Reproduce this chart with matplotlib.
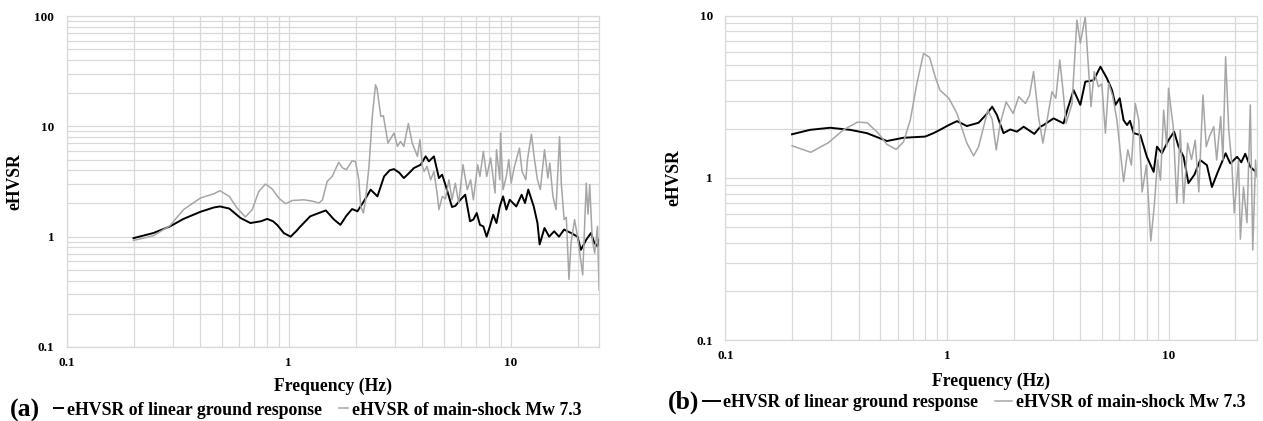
import numpy as np
import matplotlib
matplotlib.use("Agg")
import matplotlib.pyplot as plt
from matplotlib.ticker import LogLocator, NullFormatter

# (a) eHVSR of linear ground response
a_lin_f = [0.2, 0.246, 0.292, 0.336, 0.40, 0.46, 0.49, 0.54, 0.606, 0.672, 0.75, 0.80,
           0.85, 0.887, 0.95, 1.02, 1.08, 1.13, 1.25, 1.39, 1.47, 1.6, 1.71, 1.82, 1.93,
           2.04, 2.18, 2.34, 2.51, 2.69, 2.85, 2.98, 3.15, 3.3, 3.45, 3.67, 3.93, 4.14,
           4.28, 4.51, 4.75, 4.91, 5.08, 5.44, 5.63, 5.93, 6.24, 6.56, 6.79, 7.03, 7.27,
           7.53, 7.79, 8.06, 8.34, 8.63, 8.93, 9.24, 9.56, 9.9, 10.6, 11.2, 11.6, 12.0,
           12.7, 13.2, 13.5, 14.2, 14.9, 15.7, 16.5, 17.4, 18.7, 20.0, 20.7, 21.9, 23.0,
           23.8, 24.6, 25.0]
a_lin_v = [0.97, 1.08, 1.24, 1.45, 1.68, 1.84, 1.88, 1.80, 1.48, 1.33, 1.38, 1.45,
           1.38, 1.28, 1.08, 1.0, 1.12, 1.24, 1.53, 1.66, 1.73, 1.43, 1.28, 1.55, 1.78,
           1.70, 2.09, 2.67, 2.32, 3.52, 4.0, 4.1, 3.8, 3.4, 3.7, 4.2, 4.49, 5.35,
           4.82, 5.35, 3.4, 3.65, 2.96, 1.86, 1.9, 2.16, 2.4, 1.38, 1.43, 1.64, 1.28,
           1.24, 1.0, 1.24, 1.58, 1.33, 1.88, 2.32, 1.76, 2.16, 1.88, 2.4, 2.02, 2.67,
           1.88, 1.33, 0.85, 1.2, 1.0, 1.12, 1.0, 1.16, 1.08, 1.0, 0.76, 0.94, 1.08,
           0.88, 0.82, 0.94]

# (a) eHVSR of main-shock Mw 7.3
a_ms_f = [0.2, 0.246, 0.292, 0.336, 0.40, 0.46, 0.49, 0.54, 0.585, 0.638, 0.685, 0.733,
          0.786, 0.842, 0.902, 0.967, 1.04, 1.17, 1.28, 1.37, 1.42, 1.49, 1.57, 1.68,
          1.75, 1.82, 1.93, 2.0, 2.07, 2.11, 2.17, 2.22, 2.3, 2.38, 2.46, 2.5, 2.6,
          2.67, 2.8, 2.98, 3.09, 3.19, 3.3, 3.46, 3.6, 3.8, 3.9, 4.0, 4.07, 4.2, 4.36,
          4.51, 4.67, 4.75, 4.92, 5.08, 5.27, 5.44, 5.63, 5.83, 6.1, 6.37, 6.6, 6.79,
          7.1, 7.27, 7.53, 7.8, 8.12, 8.5, 8.63, 8.93, 9.0, 9.24, 9.56, 9.8, 10.05,
          10.4, 10.95, 11.25, 11.7, 11.9, 12.4, 12.8, 13.2, 13.6, 14.2, 14.7, 15.0,
          15.5, 16.0, 16.6, 16.9, 17.4, 17.8, 18.3, 18.7, 19.4, 20.1, 21.1, 21.9, 22.3,
          22.7, 23.3, 23.9, 24.6, 25.0]
a_ms_v = [0.925, 1.02, 1.26, 1.76, 2.24, 2.45, 2.61, 2.32, 1.82, 1.51, 1.76, 2.57,
          3.0, 2.71, 2.24, 1.99, 2.13, 2.16, 2.1, 2.02, 2.16, 3.17, 3.52, 4.72,
          4.2, 4.05, 4.88, 4.8, 3.28, 1.88, 1.64, 2.16, 4.34, 12.3, 23.8, 22.0, 12.3,
          12.5, 7.06, 8.7, 6.6, 7.3, 6.6, 10.6, 7.06, 5.35, 7.6, 4.34, 3.9, 4.34, 3.28,
          3.9, 2.4, 1.76, 2.32, 2.2, 3.28, 2.16, 3.06, 2.02, 4.49, 2.67, 3.28, 2.16,
          4.49, 3.52, 5.93, 3.52, 5.17, 2.49, 6.15, 3.28, 8.7, 2.67, 3.52, 4.99, 3.06,
          4.34, 6.36, 3.9, 3.28, 4.99, 8.5, 4.99, 3.28, 2.67, 6.15, 3.4, 4.65,
          2.32, 1.76, 8.1, 3.06, 1.43, 1.5, 0.41, 0.88, 1.43, 0.94, 0.45, 3.06, 1.6,
          2.96, 0.94, 0.71, 1.24, 0.33]

# (b) eHVSR of linear ground response
b_lin_f = [0.2, 0.241, 0.297, 0.366, 0.435, 0.536, 0.637, 0.798, 0.87, 0.93, 1.02, 1.11,
           1.23, 1.39, 1.52, 1.6, 1.68, 1.80, 1.93, 2.07, 2.22, 2.48, 2.64, 2.73, 3.03,
           3.36, 3.5, 3.73, 4.0, 4.21, 4.59, 4.93, 5.27, 5.56, 5.76, 6.02, 6.27, 6.5,
           6.7, 6.96, 7.46, 7.99, 8.57, 8.87, 9.34, 10.0, 10.6, 11.1, 11.7, 12.3, 13.1,
           13.9, 14.9, 15.7, 16.6, 18.1, 19.0, 20.4, 21.3, 22.2, 23.4, 25.0]
b_lin_v = [1.86, 1.98, 2.04, 1.98, 1.89, 1.69, 1.77, 1.80, 1.89, 1.98, 2.12, 2.24,
           2.09, 2.19, 2.5, 2.75, 2.45, 1.89, 1.99, 1.93, 2.07, 1.87, 2.07, 2.12, 2.33,
           2.17, 2.65, 3.48, 2.82, 3.92, 4.0, 4.85, 4.12, 3.48, 2.82, 3.1, 2.27, 2.12,
           2.25, 1.89, 1.84, 1.35, 1.09, 1.56, 1.42, 1.71, 1.93, 1.56, 1.35, 0.93, 1.05,
           1.29, 1.2, 0.88, 1.07, 1.42, 1.23, 1.35, 1.25, 1.41, 1.17, 1.08]

# (b) eHVSR of main-shock Mw 7.3
b_ms_f = [0.2, 0.243, 0.292, 0.341, 0.395, 0.437, 0.49, 0.536, 0.59, 0.637, 0.683, 0.732,
          0.784, 0.835, 0.885, 0.93, 1.02, 1.11, 1.23, 1.32, 1.39, 1.53, 1.6, 1.67, 1.74,
          1.85, 1.99, 2.11, 2.26, 2.36, 2.46, 2.59, 2.71, 2.83, 2.98, 3.1, 3.23, 3.34,
          3.45, 3.67, 3.86, 4.0, 4.21, 4.31, 4.47, 4.62, 4.83, 5.0, 5.19, 5.37, 5.6,
          5.85, 6.27, 6.55, 6.8, 7.08, 7.34, 7.6, 7.95, 8.32, 8.62, 8.93, 9.2, 9.51,
          9.82, 10.0, 10.5, 10.9, 11.3, 11.7, 12.2, 12.7, 13.2, 13.7, 14.3, 14.8, 15.3,
          16.0, 16.5, 17.2, 17.6, 18.1, 18.7, 19.3, 19.8, 20.7, 21.1, 21.8, 22.6, 23.4,
          24.0, 24.7, 25.0]
b_ms_v = [1.58, 1.44, 1.65, 1.98, 2.21, 2.19, 1.89, 1.61, 1.5, 1.67, 2.27, 3.83,
          5.85, 5.54, 4.21, 3.48, 3.1, 2.5, 1.64, 1.37, 1.56, 2.62, 2.3, 1.49, 2.17,
          2.94, 2.5, 3.17, 2.88, 3.24, 4.52, 2.39, 1.64, 2.27, 3.4, 3.1, 5.33, 3.48,
          2.17, 2.88, 9.4, 6.77, 9.86, 5.85, 2.75, 4.52, 3.65, 3.8, 1.89, 3.83, 3.2,
          2.27, 0.95, 1.49, 1.2, 2.88, 2.27, 0.82, 1.2, 0.41, 0.67, 1.29, 0.97, 2.62,
          1.56, 3.57, 2.07, 0.7, 1.98, 0.7, 1.64, 1.3, 1.71, 0.82, 3.24, 1.56, 1.8,
          2.07, 1.29, 2.39, 1.29, 5.59, 1.98, 1.23, 0.61, 1.29, 0.42, 0.88, 0.53, 2.82,
          0.36, 1.29, 1.02]

lin_label = "eHVSR of linear ground response"
ms_label = "eHVSR of main-shock Mw 7.3"
x_ticks = [0.1, 1, 10]
x_ticklabels = ["0.1", "1", "10"]

plt.rcParams["font.family"] = "Liberation Serif"
plt.rcParams["font.weight"] = "bold"

GRID = "#d9d9d9"
GREY = "#a6a6a6"


def setup(ax, ylim, yticks, yticklabels):
    """ Excel-like log-log axes with full minor grid """
    ax.set_xscale("log")
    ax.set_yscale("log")
    ax.set_xlim(0.1, 25)
    ax.set_ylim(*ylim)
    ax.set_xticks(x_ticks)
    ax.set_xticklabels(x_ticklabels)
    ax.set_yticks(yticks)
    ax.set_yticklabels(yticklabels)
    for axis in (ax.xaxis, ax.yaxis):
        axis.set_minor_locator(LogLocator(base=10, subs=np.arange(2, 10), numticks=30))
        axis.set_minor_formatter(NullFormatter())
    ax.grid(True, which="both", color=GRID, lw=0.9)
    ax.set_axisbelow(True)
    ax.tick_params(which="both", length=0, labelsize=9.5)
    ax.tick_params(axis="x", pad=7)
    ax.tick_params(axis="y", pad=9)
    for s in ax.spines.values():
        s.set_color(GRID)
        s.set_linewidth(0.9)


fig = plt.figure(figsize=(12.63, 4.21), dpi=100)

ax1 = fig.add_axes([0.0528, 0.1758, 0.4215, 0.786])
setup(ax1, (0.1, 100), [0.1, 1, 10, 100], ["0.1", "1", "10", "100"])
l1, = ax1.plot(a_lin_f, a_lin_v, color="black", lw=1.4)
l2, = ax1.plot(a_ms_f, a_ms_v, color=GREY, lw=1.1)
ax1.set_xlabel("Frequency (Hz)", fontsize=12.7, fontweight="bold")
ax1.xaxis.set_label_coords(0.5, -0.094)
ax1.set_ylabel("eHVSR", fontsize=12.7, fontweight="bold")
ax1.yaxis.set_label_coords(-0.082, 0.5)

ax2 = fig.add_axes([0.5743, 0.1917, 0.4207, 0.771])
setup(ax2, (0.1, 10), [0.1, 1, 10], ["0.1", "1", "10"])
m1, = ax2.plot(b_lin_f, b_lin_v, color="black", lw=1.4)
m2, = ax2.plot(b_ms_f, b_ms_v, color=GREY, lw=1.1)
ax2.set_xlabel("Frequency (Hz)", fontsize=12.7, fontweight="bold")
ax2.xaxis.set_label_coords(0.5, -0.10)
ax2.set_ylabel("eHVSR", fontsize=12.7, fontweight="bold")
ax2.yaxis.set_label_coords(-0.0815, 0.5)

# panel letters and legends below each chart
fig.text(0.0079, 0.026, "(a)", fontsize=18.5, fontweight="bold", va="center", ha="left")
fig.legend(handles=[l1, l2], labels=[lin_label, ms_label], loc="center left",
           bbox_to_anchor=(0.0428, 0.026), ncol=2, frameon=False, fontsize=12.8,
           handlelength=0.5, handletextpad=0.22, columnspacing=0.95,
           borderpad=0, borderaxespad=0)

fig.text(0.5289, 0.0435, "(b)", fontsize=18.5, fontweight="bold", va="center", ha="left")
fig.legend(handles=[m1, m2], labels=[lin_label, ms_label], loc="center left",
           bbox_to_anchor=(0.5566, 0.0435), ncol=2, frameon=False, fontsize=12.8,
           handlelength=0.95, handletextpad=0.2, columnspacing=0.95,
           borderpad=0, borderaxespad=0)

fig.savefig("out.png", dpi=100)
